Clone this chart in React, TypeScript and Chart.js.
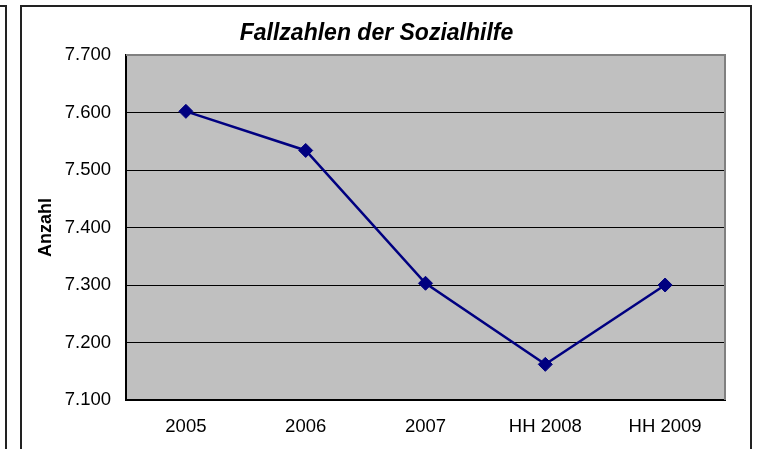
import React, { useEffect, useRef } from "react";
import { Chart, registerables } from "chart.js";

Chart.register(...registerables);

const categories = ["2005", "2006", "2007", "HH 2008", "HH 2009"];
const fallzahlen = [7602, 7534, 7303, 7162, 7300];
const yMin = 7100;
const yMax = 7700;
const yStep = 100;
const titleText = "Fallzahlen der Sozialhilfe";
const yAxisTitle = "Anzahl";

const FONT = "'Liberation Sans', Arial, Helvetica, sans-serif";

function formatDe(v: number): string {
  const thousands = Math.floor(v / 1000);
  const rest = Math.round(v - thousands * 1000);
  return thousands + "." + String(rest).padStart(3, "0");
}

const plotAreaPlugin = {
  id: "plotArea",
  beforeDraw(chart: any) {
    const { ctx, chartArea } = chart;
    ctx.save();
    ctx.fillStyle = "#C0C0C0";
    ctx.fillRect(chartArea.left, chartArea.top, chartArea.right - chartArea.left, chartArea.bottom - chartArea.top);
    ctx.restore();
  },
  beforeDatasetsDraw(chart: any) {
    const { ctx, chartArea } = chart;
    ctx.save();
    ctx.fillStyle = "#808080";
    ctx.fillRect(chartArea.left, chartArea.top - 1, chartArea.right - chartArea.left + 1, 2);
    ctx.fillRect(chartArea.right - 1, chartArea.top - 1, 2, chartArea.bottom - chartArea.top + 1);
    ctx.restore();
  },
};

export default function App() {
  const canvasRef = useRef<HTMLCanvasElement | null>(null);

  useEffect(() => {
    if (!canvasRef.current) return;
    const chart = new Chart(canvasRef.current, {
      type: "line",
      data: {
        labels: categories,
        datasets: [
          {
            label: "Fallzahlen",
            data: fallzahlen,
            borderColor: "#000080",
            backgroundColor: "#000080",
            borderWidth: 2.5,
            tension: 0,
            pointStyle: "rectRot",
            pointRadius: 7,
            pointBorderWidth: 1,
            pointBackgroundColor: "#000080",
            pointBorderColor: "#000080",
            clip: false as any,
          },
        ],
      },
      options: {
        animation: false,
        responsive: false,
        maintainAspectRatio: false,
        layout: { padding: { left: 28, right: 36, top: 0, bottom: 0 } },
        plugins: {
          legend: { display: false },
          tooltip: { enabled: false },
          title: {
            display: true,
            text: titleText,
            color: "#000",
            font: { family: FONT, size: 23, weight: "bold", style: "italic" },
            padding: { top: 19.7, bottom: 7.7 },
          },
        },
        scales: {
          x: {
            type: "category",
            offset: true,
            grid: { display: false, drawTicks: false },
            border: { display: true, color: "#000", width: 2 },
            ticks: {
              color: "#000",
              font: { family: FONT, size: 18.5 },
              padding: 16,
              maxRotation: 0,
              autoSkip: false,
            },
            afterFit(scale: any) {
              scale.height = 49;
            },
          },
          y: {
            min: yMin,
            max: yMax,
            grid: { color: "#000", lineWidth: 1, drawTicks: false },
            border: { display: true, color: "#000", width: 2 },
            ticks: {
              stepSize: yStep,
              color: "#000",
              font: { family: FONT, size: 18.5 },
              padding: 15,
              callback: (v: any) => formatDe(Number(v)),
            },
            title: {
              display: true,
              text: yAxisTitle,
              color: "#000",
              font: { family: FONT, size: 18, weight: "bold" },
              padding: { top: 7.7, bottom: 0 },
            },
            afterFit(scale: any) {
              scale.width = 98;
            },
          },
        },
      },
      plugins: [plotAreaPlugin],
    });
    return () => chart.destroy();
  }, []);

  return (
    <div
      style={{
        position: "fixed",
        left: 0,
        top: 0,
        width: 761,
        height: 449,
        background: "#fff",
        overflow: "hidden",
      }}
    >
      <div
        style={{
          position: "absolute",
          left: -20,
          top: 5,
          width: 25,
          height: 500,
          borderTop: "2px solid #222",
          borderRight: "2px solid #222",
        }}
      />
      <div
        style={{
          position: "absolute",
          left: 20,
          top: 5,
          width: 728,
          height: 500,
          border: "2px solid #222",
        }}
      />
      <canvas
        ref={canvasRef}
        width={761}
        height={449}
        style={{ position: "absolute", left: 0, top: 0, width: 761, height: 449 }}
      />
    </div>
  );
}
